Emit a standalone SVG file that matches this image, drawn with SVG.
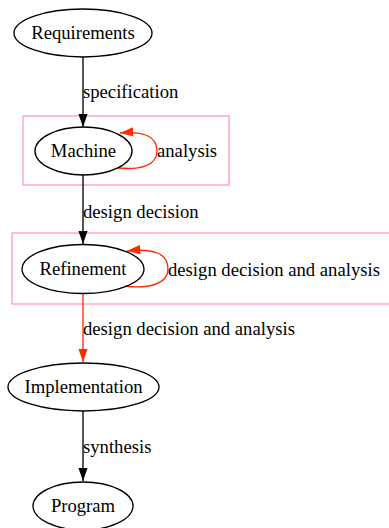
<svg xmlns="http://www.w3.org/2000/svg" width="389" height="528" viewBox="0 0 389 528">
<style>
text{font-family:"Liberation Serif","Times New Roman",serif;font-size:18.67px;fill:#000}
.n{fill:none;stroke:#000;stroke-width:1.33}
.mid{text-anchor:middle}
.cl{fill:none;stroke:#ff99cc;stroke-width:1.33}
.e{fill:none;stroke:#000;stroke-width:1.33}
.r{fill:none;stroke:#ff2a00;stroke-width:1.33}
</style>
<defs>
<marker id="ab" markerWidth="13.3" markerHeight="9.3" refX="13.3" refY="4.65" orient="auto" markerUnits="userSpaceOnUse" viewBox="0 0 13.3 9.3"><path d="M0,0 L13.3,4.65 L0,9.3 z" fill="#000"/></marker>
<marker id="ar" markerWidth="13.3" markerHeight="9.3" refX="13.3" refY="4.65" orient="auto" markerUnits="userSpaceOnUse" viewBox="0 0 13.3 9.3"><path d="M0,0 L13.3,4.65 L0,9.3 z" fill="#ff2a00"/></marker>
</defs>
<g id="cluster_machine"><rect class="cl" x="23" y="116" width="206" height="69"/></g>
<g id="cluster_refinement"><rect class="cl" x="12" y="233" width="380" height="71"/></g>
<g id="edges">
<path class="e" d="M83,57 V127" marker-end="url(#ab)"/>
<text x="83" y="98">specification</text>
<path class="r" d="M118,168 C140,170 157,166 157,151 C157,137 145,131 120,133" marker-end="url(#ar)"/>
<text x="157" y="157">analysis</text>
<path class="e" d="M83,175 V244" marker-end="url(#ab)"/>
<text x="83" y="218">design decision</text>
<path class="r" d="M125,286 C148,289 168,284 168,269 C168,254 155,248 127,251" marker-end="url(#ar)"/>
<text x="168" y="276">design decision and analysis</text>
<path class="r" d="M83,293 V362" marker-end="url(#ar)"/>
<text x="83" y="335">design decision and analysis</text>
<path class="e" d="M83,411 V481" marker-end="url(#ab)"/>
<text x="83" y="453">synthesis</text>
</g>
<g id="Requirements"><ellipse class="n" cx="83" cy="33" rx="69" ry="24"/><text class="mid" x="83" y="39">Requirements</text></g>
<g id="Machine"><ellipse class="n" cx="83.5" cy="151" rx="48.5" ry="24"/><text class="mid" x="83.5" y="157">Machine</text></g>
<g id="Refinement"><ellipse class="n" cx="83" cy="269" rx="61" ry="24.5"/><text class="mid" x="83" y="275">Refinement</text></g>
<g id="Implementation"><ellipse class="n" cx="83.5" cy="387" rx="75.5" ry="24"/><text class="mid" x="83.5" y="393">Implementation</text></g>
<g id="Program"><ellipse class="n" cx="83" cy="506" rx="50" ry="24"/><text class="mid" x="83" y="512">Program</text></g>
</svg>
